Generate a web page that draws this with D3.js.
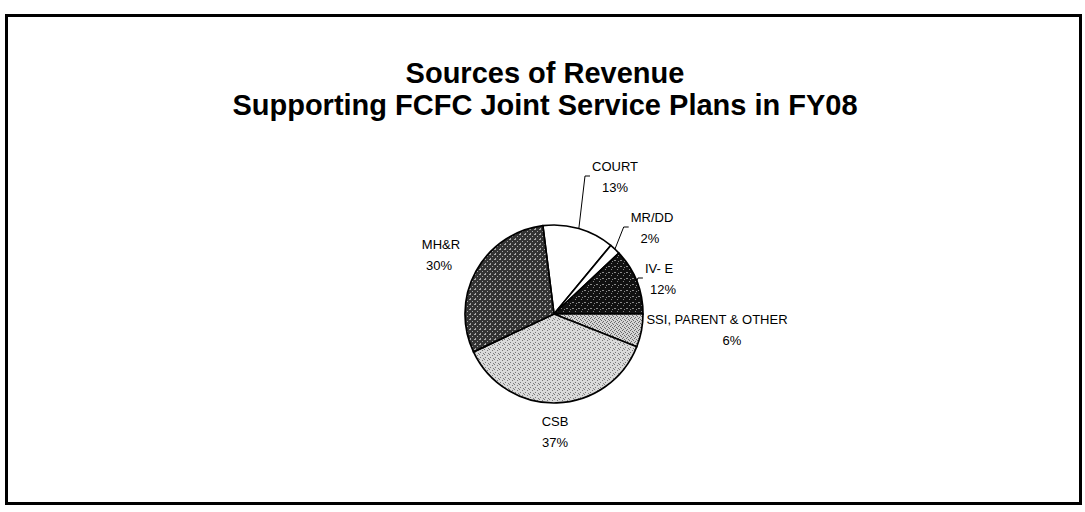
<!DOCTYPE html>
<html><head><meta charset="utf-8">
<script src="https://cdn.jsdelivr.net/npm/d3@7"></script>
<style>
html,body{margin:0;padding:0;background:#fff;}
svg{display:block;}
text{font-family:"Liberation Sans",Arial,sans-serif;fill:#000;}
</style></head>
<body>
<svg id="chart" width="1085" height="512"></svg>
<script>
// ---- data ----
const titleLines = ["Sources of Revenue", "Supporting FCFC Joint Service Plans in FY08"];
const categories = ["COURT", "MR/DD", "IV- E", "SSI, PARENT & OTHER", "CSB", "MH&R"];
const values = [13, 2, 12, 6, 37, 30];

// ---- layout / style (not data) ----
const W = 1085, H = 512;
const cx = 554, cy = 314, R = 89;
const startDeg = -7.2;
const fills = ["#ffffff", "#ffffff", "url(#pIVE)", "url(#pSSI)", "url(#pCSB)", "url(#pMHR)"];
// label box centre offsets from pie centre, and whether a leader line is drawn
const labelPos = [
  {dx: 61, dy: -137, leader: true},
  {dx: 98, dy: -86, leader: true},
  {dx: 105, dy: -35, leader: true},
  {dx: 163, dy: 16, leader: false},
  {dx: 1, dy: 118, leader: false},
  {dx: -113, dy: -59, leader: false}
];
const pctOffsetX = [0, -2, 4, 15, 0, -2];
const lineGap = 21;

const svg = d3.select("#chart");
const defs = svg.append("defs");

function makePattern(id, base, dot, size, pts) {
  const p = defs.append("pattern").attr("id", id).attr("patternUnits", "userSpaceOnUse")
    .attr("width", size).attr("height", size);
  p.append("rect").attr("width", size).attr("height", size).attr("fill", base);
  pts.forEach(([x, y, w]) => p.append("rect").attr("x", x).attr("y", y).attr("width", w || 1).attr("height", 1).attr("fill", dot));
}
makePattern("pIVE", "#111111", "#8a8a8a", 6, [[0,0,2],[3,3,1],[4,1,1]]);
makePattern("pSSI", "#d4d4d4", "#6a6a6a", 4, [[0,0,1],[2,1,1],[1,3,1],[3,2,1]]);
makePattern("pCSB", "#dadada", "#7a7a7a", 5, [[0,0,1],[3,1,1],[1,3,1],[4,4,1]]);
makePattern("pMHR", "#333333", "#a8a8a8", 5, [[0,0,2],[3,2,1],[1,4,1]]);

// frame
svg.append("rect").attr("x", 6.5).attr("y", 15.5).attr("width", 1074).attr("height", 488)
  .attr("fill", "none").attr("stroke", "#000").attr("stroke-width", 3);

// title
svg.append("g").selectAll("text").data(titleLines).join("text")
  .attr("x", 545).attr("y", (d, i) => 83 + i * 32)
  .attr("text-anchor", "middle").attr("font-weight", "bold").attr("font-size", 29)
  .text(d => d);

// pie
const total = d3.sum(values);
const pie = d3.pie().sort(null).value(d => d)
  .startAngle(startDeg * Math.PI / 180).endAngle((startDeg + 360) * Math.PI / 180);
const arcs = pie(values);
const arc = d3.arc().innerRadius(0).outerRadius(R);

const g = svg.append("g").attr("transform", `translate(${cx},${cy})`);
g.selectAll("path").data(arcs).join("path")
  .attr("d", arc).attr("fill", (d, i) => fills[i])
  .attr("stroke", "#000").attr("stroke-width", 1.7).attr("stroke-linejoin", "round");

// labels
const fs = 13;
const lg = g.append("g");
arcs.forEach((a, i) => {
  const lp = labelPos[i];
  const pct = Math.round(a.data / total * 100) + "%";
  const t = lg.append("text").attr("text-anchor", "middle").attr("font-size", fs);
  t.append("tspan").attr("x", lp.dx).attr("y", lp.dy - lineGap / 2 + 4).text(categories[i]);
  t.append("tspan").attr("x", lp.dx + pctOffsetX[i]).attr("y", lp.dy + lineGap / 2 + 4).text(pct);
  if (lp.leader) {
    const bb = t.node().getBBox();
    const mid = (a.startAngle + a.endAngle) / 2;
    const ax = R * Math.sin(mid), ay = -R * Math.cos(mid);
    const ex = bb.x - 2, ey = lp.dy - 1;
    lg.append("path")
      .attr("d", `M${ax},${ay}L${ex - 5},${ey}L${ex},${ey}`)
      .attr("fill", "none").attr("stroke", "#000").attr("stroke-width", 1);
  }
});
</script>
</body></html>
